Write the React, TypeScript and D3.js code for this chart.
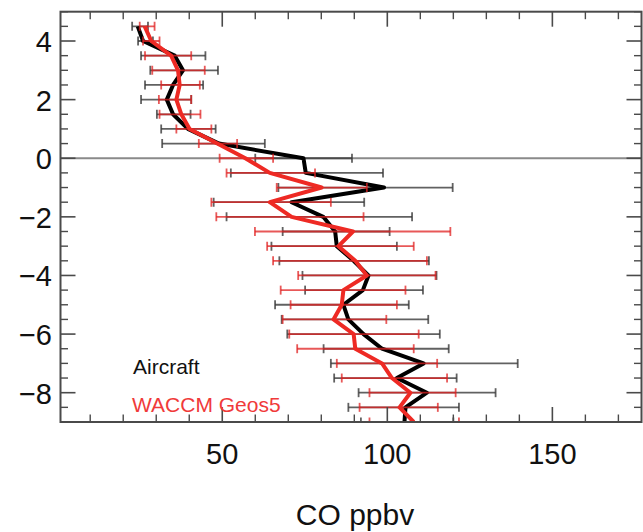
import React from "react";
import * as d3 from "d3";

const levels = [4.5, 4.0, 3.5, 3.0, 2.5, 2.0, 1.5, 1.0, 0.5, 0, -0.5, -1, -1.5, -2, -2.5, -3, -3.5, -4, -4.5, -5, -5.5, -6, -6.5, -7, -7.5, -8, -8.5, -9];

const aircraftMean = [24.4, 26, 35.6, 38.1, 35.1, 33.2, 35.1, 39.6, 49, 74.6, 75.3, 99, 71, 80.6, 84.2, 84.7, 89.8, 94.3, 92.6, 86.7, 88.2, 92.8, 98.4, 111, 102.9, 112, 105.5, 105.2];
const aircraftLow = [22.7, 24.5, 25.4, 28.2, 26.6, 25.4, 30.2, 31.5, 31.8, 60, 52.6, 67, 47.4, 51.3, 68.3, 64.9, 67.3, 74.3, 75.1, 66, 68, 69.7, 80.7, 82.9, 83.9, 91.3, 88.2, 92];
const aircraftHigh = [27.5, 29, 44.9, 48.7, 44.2, 40.6, 40.4, 48, 62.9, 89.3, 98.7, 119.8, 93, 107.5, 100.7, 102.9, 112.6, 114.9, 110.8, 106.5, 112.4, 115.9, 118.6, 139.5, 121, 132.8, 121.7, 120];

const waccmMean = [26.5, 28.5, 34.5, 36.6, 37.1, 36.1, 37.6, 40.1, 48.5, 57, 64.4, 80.1, 64.4, 71, 89.6, 85.2, 90.3, 93.8, 86.7, 86.2, 83.7, 89.8, 90.3, 98.4, 101.4, 107, 103.7, 108];
const waccmLow = [25, 26, 26.6, 28.8, 31.5, 30.8, 31, 36.1, 42.9, 49.2, 51.3, 66.5, 46.7, 48.2, 59.9, 63.6, 65.4, 73, 67.7, 70.7, 68.3, 70.3, 72.7, 84.7, 86.2, 94.6, 91.6, 94.6];
const waccmHigh = [29.5, 31, 40.6, 44.7, 43.2, 40.6, 43.4, 46.7, 54.5, 65.4, 78.1, 93.8, 82.9, 92.8, 119.1, 108, 112, 114.6, 105.5, 102.9, 99.7, 109.5, 108, 115.1, 118.1, 120.7, 115.3, 121.7];

const xMajorTicks = [50, 100, 150];
const xMinorTicks = [10, 20, 30, 40, 60, 70, 80, 90, 110, 120, 130, 140, 160, 170];
const yMajorTicks = [4, 2, 0, -2, -4, -6, -8];
const yMinorTicks = d3.range(-9, 5.01, 0.5).filter((v) => !yMajorTicks.includes(v));

const xLabel = "CO ppbv";
const seriesNames = ["Aircraft", "WACCM Geos5"];

const W = 643;
const H = 532;
const L = 60.5;
const R = 641.5;
const T = 11.7;
const B = 422;

const FONT = "'Liberation Sans', Arial, Helvetica, sans-serif";

export default function App() {
  const x = d3.scaleLinear().domain([1, 177]).range([L, R]);
  const y = d3.scaleLinear().domain([-9, 5]).range([B, T]);

  const line = d3
    .line<number>()
    .x((d) => x(d))
    .y((_, i) => y(levels[i]));

  const axisColor = "#4a4a4a";
  const majLen = 15;
  const minLen = 7.5;
  const cap = 4.5;

  const bars = (lo: number[], hi: number[], color: string, opacity: number, key: string) =>
    levels.map((lv, i) => {
      const yy = y(lv);
      return (
        <g key={key + i} stroke={color} strokeOpacity={opacity} strokeWidth={1.8}>
          <line x1={x(lo[i])} x2={x(hi[i])} y1={yy} y2={yy} />
          <line x1={x(lo[i])} x2={x(lo[i])} y1={yy - cap} y2={yy + cap} />
          <line x1={x(hi[i])} x2={x(hi[i])} y1={yy - cap} y2={yy + cap} />
        </g>
      );
    });

  return (
    <svg
      width={W}
      height={H}
      style={{ position: "absolute", left: 0, top: 0, background: "#fff" }}
      fontFamily={FONT}
    >
      <defs>
        <clipPath id="plot">
          <rect x={L} y={T} width={R - L} height={B - T} />
        </clipPath>
      </defs>
      <rect x={0} y={0} width={W} height={H} fill="#fff" />

      {/* zero line */}
      <line x1={L} x2={R} y1={y(0)} y2={y(0)} stroke="#8a8a8a" strokeWidth={2.2} />

      <g clipPath="url(#plot)">
        {bars(aircraftLow, aircraftHigh, "#3a3a3a", 0.8, "a")}
        <path d={line(aircraftMean) || ""} fill="none" stroke="#000" strokeWidth={4} strokeLinejoin="round" />
        {bars(waccmLow, waccmHigh, "#e02020", 0.75, "w")}
        <path d={line(waccmMean) || ""} fill="none" stroke="#ee2a24" strokeWidth={4} strokeLinejoin="round" />
      </g>

      {/* frame */}
      <rect x={L} y={T} width={R - L} height={B - T} fill="none" stroke={axisColor} strokeWidth={2} />

      {/* x ticks bottom & top */}
      {xMajorTicks.map((v) => (
        <g key={"xM" + v} stroke={axisColor} strokeWidth={1.6}>
          <line x1={x(v)} x2={x(v)} y1={B} y2={B - majLen} />
          <line x1={x(v)} x2={x(v)} y1={T} y2={T + majLen} />
        </g>
      ))}
      {xMinorTicks.map((v) => (
        <g key={"xm" + v} stroke={axisColor} strokeWidth={1.4}>
          <line x1={x(v)} x2={x(v)} y1={B} y2={B - minLen} />
          <line x1={x(v)} x2={x(v)} y1={T} y2={T + minLen} />
        </g>
      ))}
      {/* y ticks left & right */}
      {yMajorTicks.map((v) => (
        <g key={"yM" + v} stroke={axisColor} strokeWidth={1.6}>
          <line x1={L} x2={L + majLen} y1={y(v)} y2={y(v)} />
          <line x1={R} x2={R - majLen} y1={y(v)} y2={y(v)} />
        </g>
      ))}
      {yMinorTicks.map((v) => (
        <g key={"ym" + v} stroke={axisColor} strokeWidth={1.4}>
          <line x1={L} x2={L + minLen} y1={y(v)} y2={y(v)} />
          <line x1={R} x2={R - minLen} y1={y(v)} y2={y(v)} />
        </g>
      ))}

      {/* tick labels */}
      {xMajorTicks.map((v) => (
        <text key={"xl" + v} x={x(v)} y={464} textAnchor="middle" fontSize={29} fill="#111">
          {v}
        </text>
      ))}
      {yMajorTicks.map((v) => (
        <text key={"yl" + v} x={52} y={y(v) + 11} textAnchor="end" fontSize={29} fill="#111">
          {v < 0 ? "\u2212" + Math.abs(v) : String(v)}
        </text>
      ))}

      <text x={355} y={525} textAnchor="middle" fontSize={30} fill="#111">
        {xLabel}
      </text>

      {/* legend */}
      <text x={133} y={374} fontSize={21} fill="#111">
        {seriesNames[0]}
      </text>
      <text x={132} y={412} fontSize={21} fill="#f03a3a">
        {seriesNames[1]}
      </text>
    </svg>
  );
}
